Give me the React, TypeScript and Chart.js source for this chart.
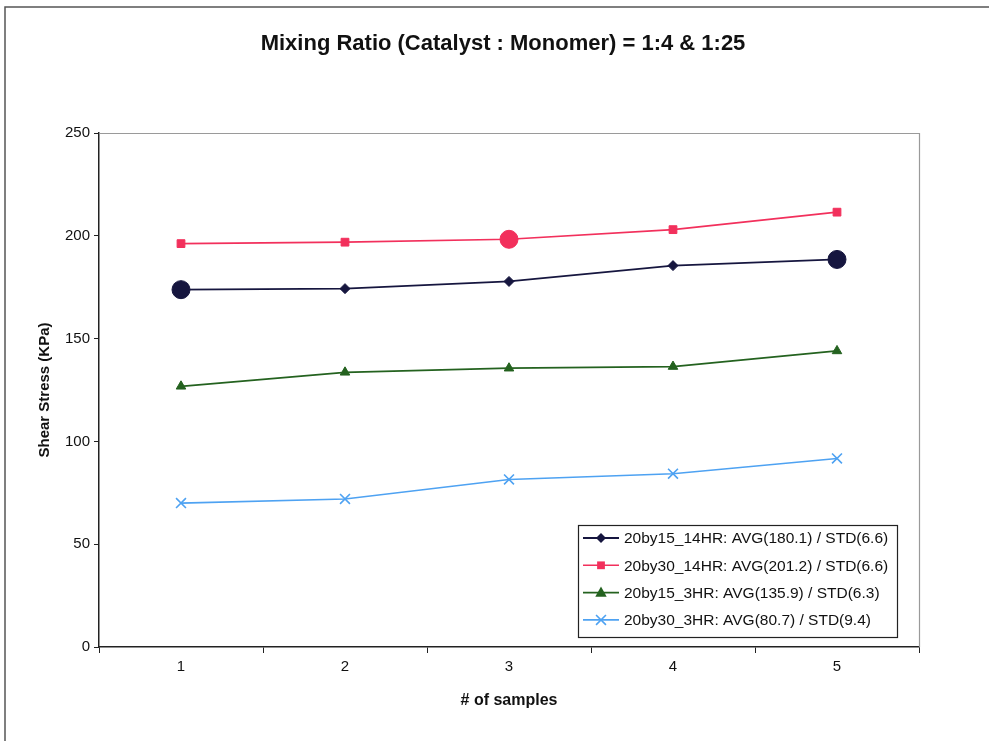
import React, { useEffect, useRef } from "react";
import { Chart, registerables } from "chart.js";

Chart.register(...registerables);

const categories = ["1", "2", "3", "4", "5"];
const yTicks = [0, 50, 100, 150, 200, 250];

const chartTitle = "Mixing Ratio (Catalyst : Monomer) = 1:4 & 1:25";

const s1Label = "20by15_14HR: AVG(180.1) / STD(6.6)";
const s2Label = "20by30_14HR: AVG(201.2) / STD(6.6)";
const s3Label = "20by15_3HR: AVG(135.9) / STD(6.3)";
const s4Label = "20by30_3HR: AVG(80.7) / STD(9.4)";

const s1Values = [173.8, 174.3, 177.8, 185.5, 188.5];
const s2Values = [196.2, 196.9, 198.3, 203.0, 211.5];
const s3Values = [126.8, 133.6, 135.6, 136.4, 144.0];
const s4Values = [70.0, 72.0, 81.5, 84.3, 91.7];

// points emphasised with a large circle in the original
const s1Big = [true, false, false, false, true];
const s2Big = [false, false, true, false, false];

const FONT = "'Liberation Sans', Arial, Helvetica, sans-serif";

const outerFrame = {
  id: "outerFrame",
  beforeDraw(chart: any) {
    const { ctx, width, height, chartArea } = chart;
    ctx.save();
    ctx.fillStyle = "#ffffff";
    ctx.fillRect(0, 0, width, height);
    ctx.strokeStyle = "#555555";
    ctx.lineWidth = 1.5;
    ctx.beginPath();
    ctx.moveTo(5, height);
    ctx.lineTo(5, 7);
    ctx.lineTo(width, 7);
    ctx.stroke();
    // chart title
    ctx.fillStyle = "#111111";
    ctx.font = `bold 22px ${FONT}`;
    ctx.textAlign = "center";
    ctx.textBaseline = "middle";
    ctx.fillText(chartTitle, (chartArea.left + chartArea.right) / 2 - 6, 44);
    ctx.restore();
  },
  beforeDatasetsDraw(chart: any) {
    const { ctx, chartArea } = chart;
    ctx.save();
    ctx.strokeStyle = "#9a9a9a";
    ctx.lineWidth = 1.2;
    ctx.beginPath();
    ctx.moveTo(chartArea.left, chartArea.top + 0.5);
    ctx.lineTo(chartArea.right + 0.5, chartArea.top + 0.5);
    ctx.lineTo(chartArea.right + 0.5, chartArea.bottom);
    ctx.stroke();
    ctx.restore();
  },
};

function drawMarker(ctx: any, style: string, r: number, x: number, y: number) {
  ctx.beginPath();
  if (style === "rectRot") {
    ctx.moveTo(x, y - r);
    ctx.lineTo(x + r, y);
    ctx.lineTo(x, y + r);
    ctx.lineTo(x - r, y);
    ctx.closePath();
    ctx.fill();
  } else if (style === "rect") {
    const s = r * Math.SQRT1_2;
    ctx.rect(x - s, y - s, 2 * s, 2 * s);
    ctx.fill();
  } else if (style === "triangle") {
    ctx.moveTo(x, y - r);
    ctx.lineTo(x + r * 0.95, y + r * 0.7);
    ctx.lineTo(x - r * 0.95, y + r * 0.7);
    ctx.closePath();
    ctx.fill();
  } else if (style === "crossRot") {
    const s = r * Math.SQRT1_2;
    ctx.moveTo(x - s, y - s);
    ctx.lineTo(x + s, y + s);
    ctx.moveTo(x - s, y + s);
    ctx.lineTo(x + s, y - s);
    ctx.stroke();
  }
}

const boxLegend = {
  id: "boxLegend",
  afterDraw(chart: any) {
    const { ctx } = chart;
    const x0 = 578;
    const y0 = 525;
    const w = 319;
    const h = 112;
    ctx.save();
    ctx.fillStyle = "#ffffff";
    ctx.fillRect(x0, y0, w, h);
    ctx.strokeStyle = "#222222";
    ctx.lineWidth = 1.2;
    ctx.strokeRect(x0 + 0.5, y0 + 0.5, w, h);
    chart.data.datasets.forEach((ds: any, i: number) => {
      const y = y0 + 13 + i * 27.3;
      ctx.strokeStyle = ds.borderColor;
      ctx.lineWidth = ds.borderWidth;
      ctx.beginPath();
      ctx.moveTo(x0 + 5, y);
      ctx.lineTo(x0 + 41, y);
      ctx.stroke();
      ctx.fillStyle = ds.pointBackgroundColor;
      ctx.strokeStyle = ds.pointBorderColor;
      ctx.lineWidth = ds.legendBorderWidth;
      drawMarker(ctx, ds.legendStyle, ds.legendRadius, x0 + 23, y);
      ctx.fillStyle = "#111111";
      ctx.font = `15.5px ${FONT}`;
      ctx.textBaseline = "middle";
      ctx.textAlign = "left";
      ctx.fillText(ds.label, x0 + 46, y + 1);
    });
    ctx.restore();
  },
};

export default function App() {
  const ref = useRef<HTMLCanvasElement | null>(null);

  useEffect(() => {
    if (!ref.current) return;
    const navy = "#16163f";
    const red = "#f2305c";
    const green = "#24621f";
    const lblue = "#4ea2f2";

    const chart = new Chart(ref.current, {
      type: "line",
      data: {
        labels: categories,
        datasets: [
          {
            label: s1Label,
            data: s1Values,
            borderColor: navy,
            backgroundColor: navy,
            pointBackgroundColor: navy,
            pointBorderColor: navy,
            borderWidth: 1.8,
            pointStyle: s1Big.map((b) => (b ? "circle" : "rectRot")),
            pointRadius: s1Big.map((b) => (b ? 9 : 5)),
            pointBorderWidth: 1,
            tension: 0,
            legendStyle: "rectRot",
            legendRadius: 5,
            legendBorderWidth: 1,
          } as any,
          {
            label: s2Label,
            data: s2Values,
            borderColor: red,
            backgroundColor: red,
            pointBackgroundColor: red,
            pointBorderColor: red,
            borderWidth: 1.6,
            pointStyle: s2Big.map((b) => (b ? "circle" : "rect")),
            pointRadius: s2Big.map((b) => (b ? 9 : 5.5)),
            pointBorderWidth: 1,
            tension: 0,
            legendStyle: "rect",
            legendRadius: 5.5,
            legendBorderWidth: 1,
          } as any,
          {
            label: s3Label,
            data: s3Values,
            borderColor: green,
            backgroundColor: green,
            pointBackgroundColor: green,
            pointBorderColor: green,
            borderWidth: 1.8,
            pointStyle: "triangle",
            pointRadius: 5.5,
            pointBorderWidth: 1,
            tension: 0,
            legendStyle: "triangle",
            legendRadius: 6,
            legendBorderWidth: 1,
          } as any,
          {
            label: s4Label,
            data: s4Values,
            borderColor: lblue,
            backgroundColor: lblue,
            pointBackgroundColor: lblue,
            pointBorderColor: lblue,
            borderWidth: 1.6,
            pointStyle: "crossRot",
            pointRadius: 7,
            pointBorderWidth: 1.6,
            tension: 0,
            legendStyle: "crossRot",
            legendRadius: 7,
            legendBorderWidth: 1.6,
          } as any,
        ],
      },
      options: {
        responsive: false,
        animation: false,
        layout: { padding: { left: 0, right: 70, top: 133, bottom: 0 } },
        plugins: {
          legend: { display: false },
          tooltip: { enabled: false },
          title: { display: false },
        },
        scales: {
          x: {
            type: "category",
            offset: true,
            grid: {
              offset: true,
              drawOnChartArea: false,
              drawTicks: true,
              tickLength: 6,
              color: "#222222",
            },
            border: { display: true, color: "#222222", width: 1.5 },
            ticks: {
              color: "#111111",
              font: { family: FONT, size: 15 },
              padding: 5,
            },
            title: {
              display: true,
              text: "# of samples",
              color: "#111111",
              font: { family: FONT, size: 16, weight: "bold" },
              padding: { top: 0, bottom: 31 },
            },
            afterFit(scale: any) {
              scale.height = 94;
            },
          },
          y: {
            min: 0,
            max: 250,
            afterBuildTicks(scale: any) {
              scale.ticks = yTicks.map((v) => ({ value: v }));
            },
            grid: {
              drawOnChartArea: false,
              drawTicks: true,
              tickLength: 5,
              color: "#222222",
            },
            border: { display: true, color: "#222222", width: 1.5 },
            ticks: {
              color: "#111111",
              font: { family: FONT, size: 15 },
              padding: 4,
            },
            title: {
              display: true,
              text: "Shear Stress (KPa)",
              color: "#111111",
              font: { family: FONT, size: 15, weight: "bold" },
              padding: { top: 36, bottom: 0 },
            },
            afterFit(scale: any) {
              scale.width = 99;
            },
          },
        },
      },
      plugins: [outerFrame, boxLegend],
    });
    return () => chart.destroy();
  }, []);

  return (
    <div style={{ position: "absolute", left: 0, top: 0, width: 989, height: 741 }}>
      <canvas ref={ref} width={989} height={741} style={{ width: 989, height: 741 }} />
    </div>
  );
}
